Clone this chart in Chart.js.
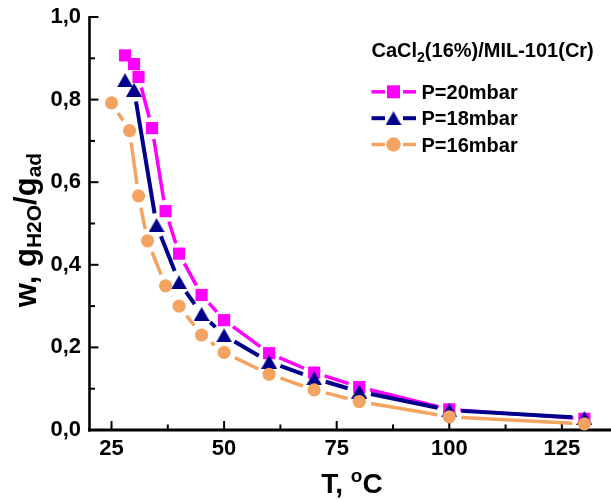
<!DOCTYPE html>
<html><head><meta charset="utf-8">
<script src="https://cdn.jsdelivr.net/npm/chart.js@4.4.1/dist/chart.umd.min.js"></script>
<style>html,body{margin:0;padding:0;background:#fff;overflow:hidden}#wrap{position:relative;width:611px;height:499px}</style>
</head><body><div id="wrap"><canvas id="c" width="611" height="499"></canvas></div>
<script>
// ---- data ----
const tempP20 = [28, 30, 31, 34, 37, 40, 45, 50, 60, 70, 80, 100, 130];
const wP20    = [0.907, 0.886, 0.855, 0.731, 0.530, 0.427, 0.327, 0.266, 0.186, 0.139, 0.104, 0.050, 0.027];
const tempP18 = [28, 30, 35, 40, 45, 50, 60, 70, 80, 100, 130];
const wP18    = [0.847, 0.824, 0.496, 0.358, 0.281, 0.229, 0.165, 0.125, 0.093, 0.048, 0.029];
const tempP16 = [25, 29, 31, 33, 37, 40, 45, 50, 60, 70, 80, 100, 130];
const wP16    = [0.792, 0.725, 0.567, 0.458, 0.349, 0.300, 0.230, 0.188, 0.135, 0.097, 0.069, 0.032, 0.015];
const xMajorTicks = [25, 50, 75, 100, 125];
const xMinorTicks = [37.5, 62.5, 87.5, 112.5];
const yMajorTicks = [0, 0.2, 0.4, 0.6, 0.8, 1.0];
const yMinorTicks = [0.1, 0.3, 0.5, 0.7, 0.9];
const seriesNames = ['P=20mbar', 'P=18mbar', 'P=16mbar'];
const legendTitleParts = ['CaCl', '2', '(16%)/MIL-101(Cr)'];
const xTitleParts = ['T, ', 'o', 'C'];
const yTitleParts = [['w, g', false], ['H2O', true], ['/g', false], ['ad', true]];

// ---- styling ----
const FONT = '"Liberation Sans", Arial, Helvetica, sans-serif';
const COLORS = ['#FF00FF', '#00008B', '#F4A460'];
const LINE_W = [3.5, 4, 3.5];
const GAPS = [11, 12, 12];

// triangle marker centred on its bounding box (Origin style)
function makeTriangle(color, w, h) {
  const c = document.createElement('canvas');
  c.width = w; c.height = h;
  const g = c.getContext('2d');
  g.fillStyle = color;
  g.beginPath(); g.moveTo(w / 2, 0); g.lineTo(w, h); g.lineTo(0, h); g.closePath(); g.fill();
  return c;
}
const STYLES = ['rect', makeTriangle(COLORS[1], 16, 14), 'circle'];
const RADII = [8.6, 8, 6.6];

function pts(xs, ys) { return xs.map((x, i) => ({ x: x, y: ys[i] })); }
const seriesX = [tempP20, tempP18, tempP16];
const seriesY = [wP20, wP18, wP16];

// solid line that stops short of each symbol (gap to symbol)
function segLen(c) { return Math.hypot(c.p1.x - c.p0.x, c.p1.y - c.p0.y); }
function gapSegment(g) {
  return {
    borderDash: c => { const L = segLen(c); return L > 2 * g ? [L - 2 * g, 2 * g] : [0, L + 2]; },
    borderDashOffset: c => -g
  };
}

const datasets = seriesNames.map((name, i) => ({
  label: name,
  data: pts(seriesX[i], seriesY[i]),
  borderColor: COLORS[i],
  backgroundColor: COLORS[i],
  pointBackgroundColor: COLORS[i],
  pointBorderColor: COLORS[i],
  pointBorderWidth: 0,
  pointStyle: STYLES[i],
  pointRadius: RADII[i],
  pointHoverRadius: RADII[i],
  borderWidth: LINE_W[i],
  borderCapStyle: 'butt',
  segment: gapSegment(GAPS[i]),
  tension: 0,
  fill: false,
  clip: false,
  order: 3 - i
}));

function drawMarker(ctx, style, r, x, y, color) {
  ctx.save();
  ctx.fillStyle = color;
  ctx.strokeStyle = color;
  ctx.setLineDash([]);
  Chart.helpers.drawPoint(ctx, { pointStyle: style, radius: r, borderWidth: 0, rotation: 0 }, x, y);
  ctx.restore();
}

function drawParts(ctx, parts, x0, baseline, big, small, subOff, supOff) {
  let x = x0;
  for (const [t, k] of parts) {
    ctx.font = 'bold ' + (k ? small : big) + 'px ' + FONT;
    const dy = k === 1 ? subOff : (k === 2 ? -supOff : 0);
    ctx.fillText(t, x, baseline + dy);
    x += ctx.measureText(t).width;
  }
  return x - x0;
}
function measureParts(ctx, parts, big, small) {
  let w = 0;
  for (const [t, k] of parts) { ctx.font = 'bold ' + (k ? small : big) + 'px ' + FONT; w += ctx.measureText(t).width; }
  return w;
}
function zeroPad(s) { s.paddingLeft = 0; s.paddingRight = 0; s.paddingTop = 0; s.paddingBottom = 0; }

const decorPlugin = {
  id: 'decor',
  beforeDatasetsDraw(chart) {
    const ctx = chart.ctx, a = chart.chartArea;
    const xs = chart.scales.x, ys = chart.scales.y;
    ctx.save();
    ctx.strokeStyle = '#000';
    ctx.setLineDash([]);
    ctx.lineWidth = 2.6;
    ctx.beginPath(); ctx.moveTo(a.left + 0.5, a.top - 1); ctx.lineTo(a.left + 0.5, a.bottom + 1.5); ctx.stroke();
    ctx.lineWidth = 3;
    ctx.beginPath(); ctx.moveTo(a.left - 1, a.bottom); ctx.lineTo(chart.width, a.bottom); ctx.stroke();
    ctx.lineWidth = 2;
    for (const v of yMajorTicks) { const p = ys.getPixelForValue(v); ctx.beginPath(); ctx.moveTo(a.left, p); ctx.lineTo(a.left + 9.5, p); ctx.stroke(); }
    for (const v of yMinorTicks) { const p = ys.getPixelForValue(v); ctx.beginPath(); ctx.moveTo(a.left, p); ctx.lineTo(a.left + 6, p); ctx.stroke(); }
    for (const v of xMajorTicks) { const p = xs.getPixelForValue(v); ctx.beginPath(); ctx.moveTo(p, a.bottom); ctx.lineTo(p, a.bottom - 9); ctx.stroke(); }
    for (const v of xMinorTicks) { const p = xs.getPixelForValue(v); ctx.beginPath(); ctx.moveTo(p, a.bottom); ctx.lineTo(p, a.bottom - 5.5); ctx.stroke(); }
    ctx.restore();
  },
  afterDraw(chart) {
    const ctx = chart.ctx;
    ctx.save();
    ctx.fillStyle = '#000';
    ctx.textAlign = 'left';
    ctx.textBaseline = 'alphabetic';
    const xp = [[xTitleParts[0], 0], [xTitleParts[1], 2], [xTitleParts[2], 0]];
    const xw = measureParts(ctx, xp, 28, 19);
    drawParts(ctx, xp, 352 - xw / 2, 493, 28, 19, 0, 11);
    const yp = yTitleParts.map(p => [p[0], p[1] ? 1 : 0]);
    const yw = measureParts(ctx, yp, 31, 21);
    ctx.save();
    ctx.translate(36, 230);
    ctx.rotate(-Math.PI / 2);
    drawParts(ctx, yp, -yw / 2, 0, 31, 21, 5, 0);
    ctx.restore();
    const lp = [[legendTitleParts[0], 0], [legendTitleParts[1], 1], [legendTitleParts[2], 0]];
    drawParts(ctx, lp, 371.5, 56.7, 20, 14, 5, 0);
    const rows = [91.8, 118.2, 144.5];
    chart.data.datasets.forEach((ds, i) => {
      const cy = rows[i];
      ctx.save();
      ctx.strokeStyle = COLORS[i];
      ctx.lineWidth = LINE_W[i];
      ctx.setLineDash([]);
      ctx.beginPath(); ctx.moveTo(371.5, cy); ctx.lineTo(385, cy); ctx.stroke();
      ctx.beginPath(); ctx.moveTo(403, cy); ctx.lineTo(416, cy); ctx.stroke();
      ctx.restore();
      drawMarker(ctx, STYLES[i], RADII[i] + 0.6, 393.5, cy, COLORS[i]);
      ctx.font = 'bold 20px ' + FONT;
      ctx.fillStyle = '#000';
      ctx.fillText(ds.label, 421.5, cy + 7.2);
    });
    ctx.restore();
  }
};

new Chart(document.getElementById('c'), {
  type: 'line',
  data: { datasets: datasets },
  options: {
    responsive: false,
    animation: false,
    events: [],
    layout: { padding: { top: 17, right: 0, left: 0, bottom: 0 } },
    plugins: { legend: { display: false }, tooltip: { enabled: false }, title: { display: false } },
    scales: {
      x: {
        type: 'linear', min: 20, max: 134,
        afterBuildTicks: s => { s.ticks = xMajorTicks.map(v => ({ value: v })); },
        afterFit: s => { s.height = 69; zeroPad(s); },
        grid: { display: false, drawTicks: false },
        border: { display: false },
        ticks: { color: '#000', padding: 6, maxRotation: 0, autoSkip: false, font: { family: FONT, size: 22, weight: 'bold' } }
      },
      y: {
        type: 'linear', min: 0, max: 1,
        afterBuildTicks: s => { s.ticks = yMajorTicks.map(v => ({ value: v })); },
        afterFit: s => { s.width = 89; zeroPad(s); },
        grid: { display: false, drawTicks: false },
        border: { display: false },
        ticks: { color: '#000', padding: 8, autoSkip: false, font: { family: FONT, size: 22, weight: 'bold' },
          callback: v => Number(v).toFixed(1).replace('.', ',') }
      }
    }
  },
  plugins: [decorPlugin]
});
</script>
</body></html>
